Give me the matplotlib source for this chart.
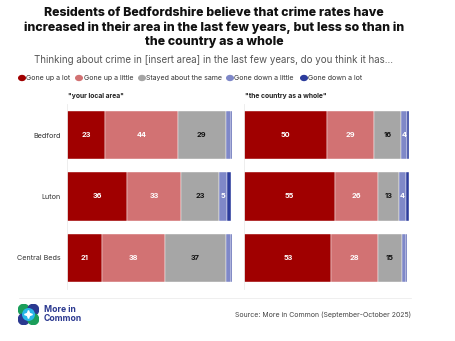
import matplotlib
matplotlib.use("Agg")
import matplotlib.pyplot as plt
from matplotlib.patches import Circle, Polygon
import numpy as np

plt.rcParams['font.family'] = ['Inter', 'DejaVu Sans']

categories = ["Bedford", "Luton", "Central Beds"]
series = ["Gone up a lot", "Gone up a little", "Stayed about the same",
          "Gone down a little", "Gone down a lot"]
local_area = {
    "Gone up a lot": [23, 36, 21],
    "Gone up a little": [44, 33, 38],
    "Stayed about the same": [29, 23, 37],
    "Gone down a little": [3, 5, 3],
    "Gone down a lot": [1, 2, 1],
}
country = {
    "Gone up a lot": [50, 55, 53],
    "Gone up a little": [29, 26, 28],
    "Stayed about the same": [16, 13, 15],
    "Gone down a little": [4, 4, 2],
    "Gone down a lot": [1, 2, 1],
}
panel_titles = ['"your local area"', '"the country as a whole"']
title = ("Residents of Bedfordshire believe that crime rates have\n"
         "increased in their area in the last few years, but less so than in\n"
         "the country as a whole")
subtitle = "Thinking about crime in [insert area] in the last few years, do you think it has..."
source = "Source: More in Common (September-October 2025)"

colors = ["#A00000", "#D27273", "#A6A6A6", "#7F88C8", "#2C3C9C"]
text_colors = ["white", "white", "#111111", "white", "white"]

W, H = 455, 341
fig = plt.figure(figsize=(W / 100, H / 100), dpi=100)

def fx(px):
    return px / W

def fy(py):
    return 1 - py / H

# Title and subtitle
fig.text(fx(214), fy(27.5), title, ha="center", va="center", fontsize=8.9,
         fontweight="heavy", color="#111111", linespacing=1.24)
fig.text(fx(214), fy(60), subtitle, ha="center", va="center", fontsize=7.0,
         color="#555555")

# Legend
leg_x = [22, 79, 142, 230, 304]
for x, lab, c in zip(leg_x, series, colors):
    fig.patches.append(Circle((fx(x), fy(78)), radius=3.3 / W, transform=fig.transFigure,
                              color=c, zorder=5))
    fig.text(fx(x + 4.5), fy(78), lab, ha="left", va="center", fontsize=5.05,
             color="#333333")

ax_bottom = fy(288.75)
ax_h = 184.5 / H
lefts = [67.3, 244]
for pi, (data, ptitle, left) in enumerate(zip([local_area, country], panel_titles, lefts)):
    ax = fig.add_axes([fx(left), ax_bottom, 165 / W, ax_h])
    y = np.arange(len(categories))
    cum = np.zeros(len(categories))
    for si, s in enumerate(series):
        vals = np.array(data[s], dtype=float)
        ax.barh(y, vals, left=cum, height=0.79, color=colors[si],
                edgecolor="white", linewidth=0.3)
        for yi, v, c0 in zip(y, vals, cum):
            if v >= 4:
                ax.text(c0 + v / 2, yi, f"{int(v)}", ha="center", va="center",
                        fontsize=5.3, fontweight="bold", color=text_colors[si])
        cum += vals
    ax.set_xlim(0, 100)
    ax.set_ylim(len(categories) - 0.5, -0.5)
    ax.set_xticks([])
    for sp in ["top", "right", "bottom"]:
        ax.spines[sp].set_visible(False)
    ax.spines["left"].set_color("#EBEBEB")
    ax.spines["left"].set_linewidth(0.6)
    if pi == 0:
        ax.set_yticks(y)
        ax.set_yticklabels(categories, fontsize=5.2, color="#333333")
        ax.tick_params(axis="y", length=0, pad=4.5)
    else:
        ax.set_yticks([])
    fig.text(fx(left + 1), fy(96), ptitle, ha="left", va="center", fontsize=4.9,
             fontweight="bold", color="#222222")

# Footer line
fig.add_artist(plt.Line2D([fx(19), fx(411)], [fy(298), fy(298)], color="#EDEDED",
                          linewidth=0.6, transform=fig.transFigure))

# Logo
lax = fig.add_axes([fx(18), fy(325), 21 / W, 21 / H])
lax.set_xlim(-1, 1)
lax.set_ylim(-1, 1)
lax.axis("off")
for (cx, cy), c in zip([(-0.45, 0.45), (0.45, 0.45), (-0.45, -0.45), (0.45, -0.45)],
                       ["#1B9E5A", "#2B3990", "#2B3990", "#1B9E5A"]):
    lax.add_patch(Circle((cx, cy), 0.52, color=c))
lax.add_patch(Circle((0, 0), 0.55, color="#29B6E8"))
star = Polygon([(0, 0.38), (0.1, 0.1), (0.38, 0), (0.1, -0.1), (0, -0.38),
                (-0.1, -0.1), (-0.38, 0), (-0.1, 0.1)], color="white")
lax.add_patch(star)
fig.text(fx(44), fy(310), "More in", ha="left", va="center", fontsize=6.2,
         fontweight="bold", color="#2B3990")
fig.text(fx(44), fy(318.5), "Common", ha="left", va="center", fontsize=6.2,
         fontweight="bold", color="#2B3990")

fig.text(fx(411), fy(315), source, ha="right", va="center", fontsize=5.0,
         color="#444444")

fig.savefig("out.png", dpi=100)
